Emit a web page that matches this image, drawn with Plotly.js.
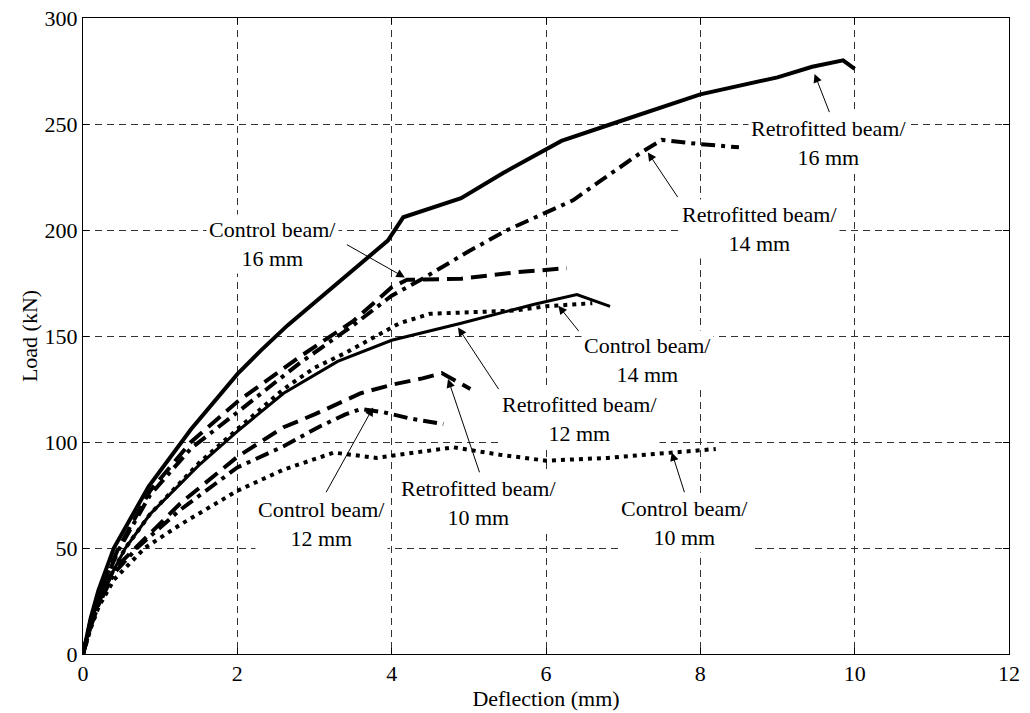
<!DOCTYPE html>
<html>
<head>
<meta charset="utf-8">
<script src="https://cdn.plot.ly/plotly-3.0.1.min.js"></script>
<style>html,body{margin:0;padding:0;background:#fff;}#chart{width:1030px;height:713px;}</style>
</head>
<body>
<div id="chart"></div>
<script>
// Retrofitted beams
const retro16X = [0, 0.1, 0.2, 0.4, 0.85, 1.4, 2.0, 2.3, 2.65, 3.3, 3.95, 4.15, 4.9, 5.45, 6.2, 6.85, 8.0, 9.0, 9.45, 9.85, 10.0];
const retro16Y = [0, 17, 30, 50, 79, 106, 132, 143, 155, 175, 195, 206, 215, 227, 242, 250, 264, 272, 277, 280, 276];
const retro14X = [0, 0.1, 0.2, 0.46, 0.87, 1.4, 2.0, 2.8, 3.5, 4.0, 4.4, 5.0, 5.5, 6.0, 6.35, 6.7, 7.25, 7.5, 8.0, 8.5];
const retro14Y = [0, 15, 27, 49, 75, 97, 114, 137, 155, 169, 177, 190, 200, 208, 214, 223, 237, 242.5, 240.5, 239];
const retro12X = [0, 0.1, 0.2, 0.55, 0.87, 1.5, 2.0, 2.6, 3.3, 4.0, 4.9, 5.85, 6.4, 6.83];
const retro12Y = [0, 14, 26, 50, 66, 89, 105, 123, 138, 148, 156, 165, 169.5, 164];
const retro10X = [0, 0.1, 0.2, 0.4, 0.68, 1.26, 2.0, 2.6, 3.0, 3.6, 4.0, 4.4, 4.65, 5.02];
const retro10Y = [0, 13, 24, 40, 50, 71, 93, 107, 113, 123, 127, 130, 132.5, 125];
// Control beams
const ctrl16X = [0, 0.1, 0.2, 0.46, 0.87, 1.4, 2.0, 2.8, 3.5, 4.0, 4.2, 4.9, 5.6, 6.27];
const ctrl16Y = [0, 16, 28, 50, 77, 100, 119, 140, 157, 173, 176.5, 177, 180, 182];
const ctrl14X = [0, 0.1, 0.2, 0.55, 0.87, 1.5, 2.0, 2.6, 3.0, 3.4, 3.85, 4.1, 4.5, 5.0, 5.6, 6.0, 6.6];
const ctrl14Y = [0, 14, 26, 50, 66, 90, 106, 125, 135, 142, 151, 156, 160.5, 161, 162, 164, 165.5];
const ctrl12X = [0, 0.1, 0.2, 0.4, 0.7, 1.26, 2.0, 2.6, 3.05, 3.4, 3.6, 3.9, 4.25, 4.67];
const ctrl12Y = [0, 13, 23, 38, 50, 68, 88, 98, 107, 113, 115.6, 114, 111, 108.5];
const ctrl10X = [0, 0.1, 0.2, 0.4, 0.8, 1.26, 2.0, 2.6, 3.25, 3.8, 4.3, 4.8, 5.4, 6.0, 6.8, 7.65, 8.2];
const ctrl10Y = [0, 12, 22, 35, 50, 61, 77, 87, 95, 92.5, 95, 97.5, 94, 91.2, 92.5, 95, 96.7];

// Labels: text, text position, arrow tail, arrow tip
const labelTexts = ['Retrofitted beam/<br>16 mm', 'Retrofitted beam/<br>14 mm', 'Control beam/<br>16 mm', 'Control beam/<br>14 mm',
  'Retrofitted beam/<br>12 mm', 'Retrofitted beam/<br>10 mm', 'Control beam/<br>12 mm', 'Control beam/<br>10 mm'];
const labelX = [9.66, 8.77, 2.45, 7.32, 6.44, 5.12, 3.09, 7.80];
const labelY = [241.2, 200.6, 193.5, 138.8, 111, 71.4, 61.5, 61.9];
const tailX = [9.68, 7.72, 3.40, 6.44, 5.40, 5.145, 3.14, 7.80];
const tailY = [254.9, 214.8, 193.5, 151.6, 124.2, 85, 75.6, 75.6];
const tipX = [9.48, 7.32, 4.17, 6.16, 4.86, 4.73, 3.76, 7.63];
const tipY = [273.6, 236.6, 177.6, 164.3, 154, 129.7, 116.3, 95.1];

const xTicks = [0, 2, 4, 6, 8, 10, 12];
const yTicks = [0, 50, 100, 150, 200, 250, 300];

const SOLID = 'solid', DASH = '16px,8px', DASHDOT = '14px,6px,4px,6px', DOT = '4px,5px';
function tr(x, y, dash, w) {
  return {x: x, y: y, type: 'scatter', mode: 'lines', line: {color: '#000', width: w, dash: dash}, hoverinfo: 'skip'};
}
const data = [
  tr(ctrl10X, ctrl10Y, DOT, 4),
  tr(ctrl12X, ctrl12Y, DASHDOT, 4),
  tr(retro10X, retro10Y, DASH, 4),
  tr(ctrl14X, ctrl14Y, DOT, 4),
  tr(retro12X, retro12Y, SOLID, 3),
  tr(ctrl16X, ctrl16Y, DASH, 4),
  tr(retro14X, retro14Y, DASHDOT, 4),
  tr(retro16X, retro16Y, SOLID, 4)
];

const font = {family: '"Liberation Serif", "Times New Roman", serif', size: 22, color: '#000'};
const annotations = [];
for (let i = 0; i < labelTexts.length; i++) {
  annotations.push({x: labelX[i], y: labelY[i], xref: 'x', yref: 'y', text: labelTexts[i], showarrow: false,
    bgcolor: '#fff', borderpad: 2, font: font, align: 'center'});
}
for (let i = 0; i < labelTexts.length; i++) {
  annotations.push({x: tipX[i], y: tipY[i], xref: 'x', yref: 'y', ax: tailX[i], ay: tailY[i], axref: 'x', ayref: 'y',
    text: '', showarrow: true, arrowhead: 2, arrowsize: 1.7, arrowwidth: 1, arrowcolor: '#000'});
}

const axisCommon = {
  showline: true, linecolor: '#000', linewidth: 1, mirror: 'ticks', ticks: 'inside', ticklen: 6, tickcolor: '#000',
  showgrid: true, gridcolor: '#333', gridwidth: 1, griddash: '7px,5px', zeroline: false, tickfont: font
};
const layout = {
  width: 1030, height: 713,
  margin: {l: 83, r: 21, t: 18, b: 59},
  paper_bgcolor: '#fff', plot_bgcolor: '#fff', showlegend: false,
  font: font,
  xaxis: Object.assign({}, axisCommon, {range: [0, 12], tickvals: xTicks, ticktext: xTicks.map(String),
    title: {text: 'Deflection (mm)', font: font, standoff: 0}}),
  yaxis: Object.assign({}, axisCommon, {range: [0, 300], tickvals: yTicks, ticktext: yTicks.map(String),
    title: {text: 'Load (kN)', font: font, standoff: 0}}),
  annotations: annotations
};
Plotly.newPlot('chart', data, layout, {displayModeBar: false, staticPlot: true});
</script>
</body>
</html>
